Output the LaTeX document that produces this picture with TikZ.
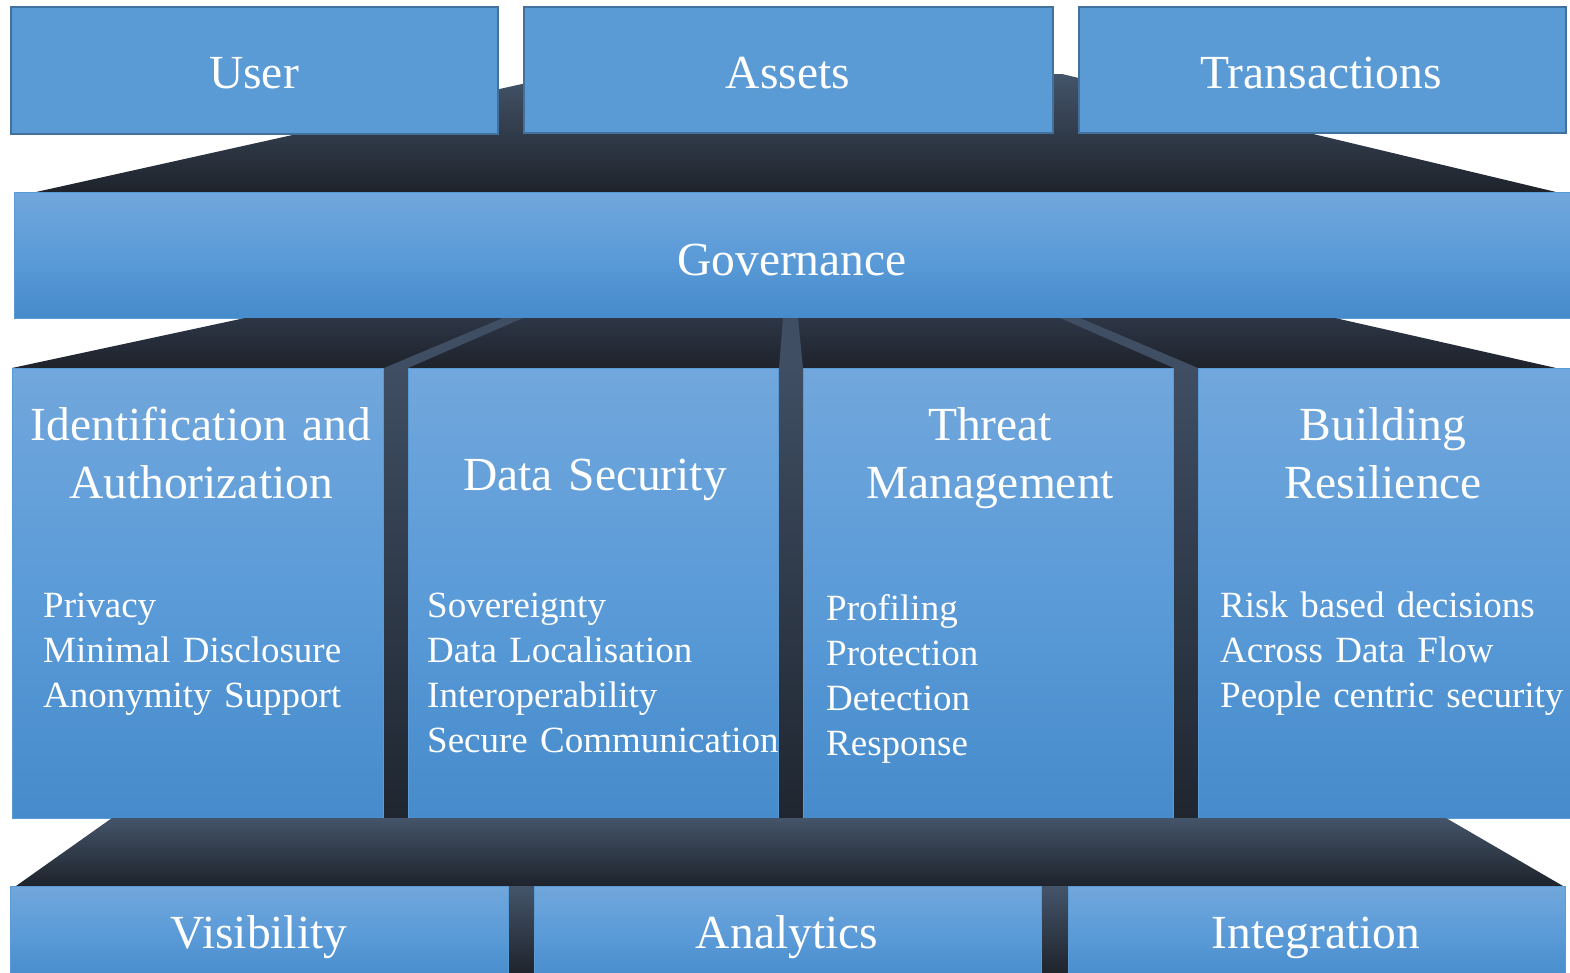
\documentclass[tikz,border=0pt]{standalone}
\usepackage{fontspec}
\setmainfont{Liberation Serif}
\definecolor{tfill}{HTML}{5B9BD5}
\definecolor{tbord}{HTML}{41719C}
\definecolor{btop}{HTML}{71A7DC}
\definecolor{bmid}{HTML}{5B9BD8}
\definecolor{bbot}{HTML}{468BCB}
\definecolor{bedge}{HTML}{5B9BD5}
\definecolor{dtop}{HTML}{44546A}
\definecolor{dbot}{HTML}{1E232B}
\definecolor{d2top}{HTML}{2D3646}
\definecolor{pcol}{HTML}{3F4E63}
\definecolor{pbot}{HTML}{1F2630}
\begin{document}
\begin{tikzpicture}[x=1pt,y=-1pt,
  tbox/.style={draw=tbord,fill=tfill,line width=1.5pt,inner sep=0pt,anchor=north west},
  bluebox/.style={top color=btop,bottom color=bbot,middle color=bmid,draw=bedge,line width=0.8pt,inner sep=0pt,anchor=north west},
  darkshape/.style={top color=dtop,bottom color=dbot},
  darkshapeb/.style={top color=d2top,bottom color=dbot},
  pillar/.style={fill=pcol},
  pillargap/.style={top color=pcol,bottom color=pbot},
  lbl/.style={text=white,font=\fontsize{47.5}{58}\selectfont,anchor=base,inner sep=0pt},
  ttl/.style={text=white,font=\fontsize{47.5}{58}\selectfont,anchor=base,inner sep=0pt,text width=380pt,align=center},
  lst/.style={text=white,font=\fontsize{37}{45}\selectfont,anchor=base west,inner sep=0pt,text width=370pt,align=left},
]
\useasboundingbox[fill=white] (0,0) rectangle (1570,972);

% roof between top boxes and governance
\path[darkshape] (36,192) -- (567,74) -- (1062,74) -- (1556,192) -- cycle;

% top boxes
\node[tbox,minimum width=487pt,minimum height=127pt] (user) at (10,6) {};
\node[tbox,minimum width=529pt,minimum height=126pt] (assets) at (523,6) {};
\node[tbox,minimum width=487pt,minimum height=126pt] (trans) at (1078,6) {};

% governance
\node[bluebox,minimum width=1562pt,minimum height=126pt] (gov) at (14,192) {};

% shape between governance and columns
\path[darkshapeb] (245,318) -- (1335,318) -- (1556,368) -- (12,368) -- cycle;
\path[pillar] (503,318) -- (523,318) -- (408,368) -- (384,368) -- cycle;
\path[pillar] (783,318) -- (798,318) -- (803,368) -- (779,368) -- cycle;
\path[pillar] (1060,318) -- (1080,318) -- (1198,368) -- (1174,368) -- cycle;
\path[pillargap] (383,368) rectangle (408,818);
\path[pillargap] (778,368) rectangle (803,818);
\path[pillargap] (1173,368) rectangle (1198,818);

% columns
\node[bluebox,minimum width=371pt,minimum height=450pt] (col1) at (12,368) {};
\node[bluebox,minimum width=370pt,minimum height=450pt] (col2) at (408,368) {};
\node[bluebox,minimum width=370pt,minimum height=450pt] (col3) at (803,368) {};
\node[bluebox,minimum width=374pt,minimum height=450pt] (col4) at (1198,368) {};

% base
\path[darkshape] (112,818) -- (1446,818) -- (1563,886) -- (16,886) -- cycle;
\path[darkshape] (505,886) rectangle (537,975);
\path[darkshape] (1038,886) rectangle (1071,975);

% bottom boxes
\node[bluebox,minimum width=498pt,minimum height=95pt] (vis) at (10,886) {};
\node[bluebox,minimum width=507pt,minimum height=95pt] (ana) at (534,886) {};
\node[bluebox,minimum width=497pt,minimum height=95pt] (integ) at (1068,886) {};

% labels
\node[lbl] (tuser) at (254,88) {User};
\node[lbl] (tassets) at (788,88) {Assets};
\node[lbl] (ttrans) at (1321,88) {Transactions};
\node[lbl] (tgov) at (792,275) {Governance};
\node[lbl] (tvis) at (259,948) {Visibility};
\node[lbl] (tana) at (787,948) {Analytics};
\node[lbl] (tinteg) at (1316,948) {Integration};

\node[ttl] (h1) at (201,440) {Identification and\\Authorization};
\node[ttl] (h2) at (595,490) {Data Security};
\node[ttl] (h3) at (990,440) {Threat\\Management};
\node[ttl] (h4) at (1383,440) {Building\\Resilience};

\node[lst] (l1) at (43,617) {Privacy\\Minimal Disclosure\\Anonymity Support};
\node[lst] (l2) at (427,617) {Sovereignty\\Data Localisation\\Interoperability\\Secure Communication};
\node[lst] (l3) at (826,620) {Profiling\\Protection\\Detection\\Response};
\node[lst] (l4) at (1220,617) {Risk based decisions\\Across Data Flow\\People centric security};
\end{tikzpicture}
\end{document}
